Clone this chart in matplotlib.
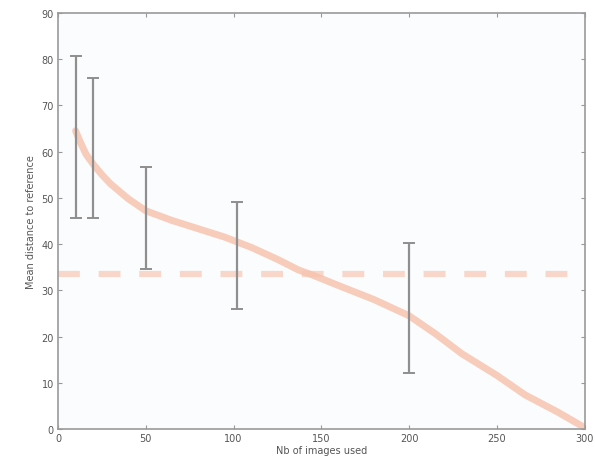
import matplotlib
matplotlib.use("Agg")
import matplotlib.pyplot as plt

# error bars: number of images, upper and lower bounds
err_x = [10, 20, 50, 102, 200]
err_hi = [80.7, 76.0, 56.7, 49.2, 40.2]
err_lo = [45.6, 45.6, 34.6, 26.0, 12.2]

# mean distance curve
curve_x = [10, 13, 16, 20, 25, 30, 40, 50, 65, 80, 95, 110, 125, 137, 145, 160, 180, 200, 215, 230, 250, 266, 285, 300]
curve_y = [64.5, 61.8, 59.4, 57.3, 55.0, 53.0, 49.8, 47.2, 45.1, 43.3, 41.5, 39.3, 36.7, 34.4, 33.3, 31.0, 28.0, 24.5, 20.6, 16.3, 11.6, 7.4, 3.6, 0.3]

# reference level
ref_y = 33.5

fig = plt.figure(figsize=(5.95, 4.64), dpi=100)
fig.patch.set_facecolor("white")
ax = fig.add_axes([0.0975, 0.0733, 0.885, 0.8967])
ax.set_facecolor("#fbfcfe")

salmon = "#f7c4ae"
ax.axhline(ref_y, color=salmon, lw=4.5, alpha=0.65, dashes=(3.5, 3.0))
ax.plot(curve_x, curve_y, color=salmon, lw=5, alpha=0.85,
        solid_capstyle="round", solid_joinstyle="round")

mid = [(h + l) / 2 for h, l in zip(err_hi, err_lo)]
half = [(h - l) / 2 for h, l in zip(err_hi, err_lo)]
ax.errorbar(err_x, mid, yerr=half, fmt="none", ecolor="#8f8f8f",
            elinewidth=1.6, capsize=4, capthick=1.4)

ax.set_xlim(0, 300)
ax.set_ylim(0, 90)
ax.set_xticks(range(0, 301, 50))
ax.set_yticks(range(0, 91, 10))
ax.tick_params(direction="in", top=True, right=True, length=3, width=0.8,
               color="#999999", labelsize=7, labelcolor="#555555", pad=3)
for s in ax.spines.values():
    s.set_color("#9a9a9a")
    s.set_linewidth(1.2)

ax.set_xlabel("Nb of images used", fontsize=7, color="#555555", labelpad=1)
ax.set_ylabel("Mean distance to reference", fontsize=7, color="#555555", labelpad=4)

fig.savefig("out.png", dpi=100)
